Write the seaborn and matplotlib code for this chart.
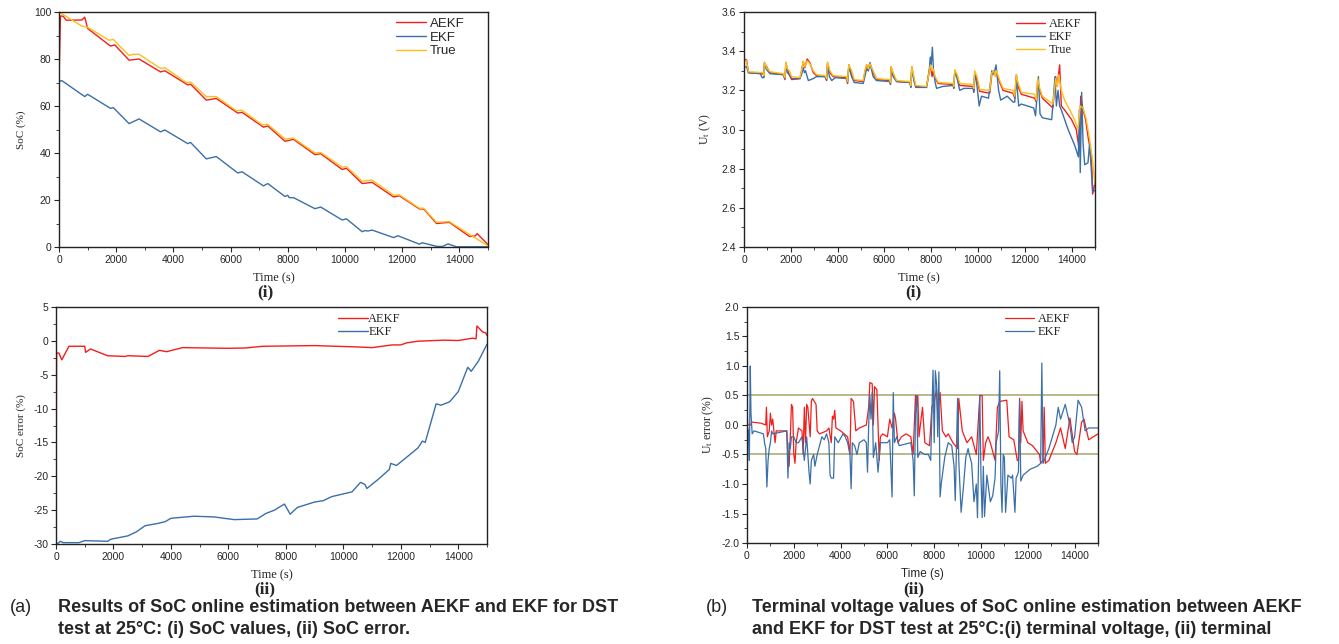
import numpy as np
import pandas as pd
import matplotlib
matplotlib.use('Agg')
import matplotlib.pyplot as plt
import seaborn as sns
from matplotlib.ticker import MultipleLocator

# ---------------- data ----------------
# (a)(i) SoC values (time s, SoC %)
soc_aekf = [(0, 70), (50, 98.3), (150, 98.2), (250, 96.5), (800, 96.6), (900, 97.8), (1000, 93),
            (1800, 85.5), (1950, 86), (2450, 79.5), (2800, 80), (3550, 74.5), (3700, 75),
            (4500, 69), (4600, 69.3), (5150, 62.5), (5500, 63.2), (6250, 57), (6400, 57.3),
            (7150, 51), (7300, 51.5), (7900, 45), (8200, 45.8), (8950, 39.3), (9150, 39.7),
            (9900, 33), (10050, 33.5), (10600, 27), (10950, 27.5), (11700, 21.3), (11900, 21.8),
            (12600, 16.2), (12750, 16.2), (13200, 10), (13650, 10.5), (14350, 4.5), (14550, 4.7),
            (14620, 5.7), (14800, 3.5), (15000, 1)]
soc_ekf = [(0, 70.5), (100, 70.8), (900, 64), (1000, 65), (1800, 59), (1900, 59.3), (2450, 52.5),
           (2800, 54.5), (3550, 49), (3700, 49.8), (4500, 44), (4600, 44.5), (5150, 37.5),
           (5500, 38.5), (6250, 31.5), (6400, 32), (7150, 26), (7300, 27), (7900, 21.5),
           (8000, 22), (8050, 21), (8200, 21), (8950, 16.3), (9150, 17), (9900, 11.5),
           (10050, 12), (10600, 6.5), (10700, 7), (10800, 6.8), (10950, 7.2), (11700, 4),
           (11850, 4.8), (12600, 1.2), (12700, 1.8), (13200, 0.3), (13400, 0.2), (13600, 1.3),
           (13900, 0.1), (15000, 0.1)]
soc_true = [(0, 100), (800, 94), (1000, 93.5), (1750, 88), (1900, 88.3), (2450, 81.5), (2600, 82),
            (2800, 82), (3550, 76), (3700, 76.3), (4450, 70), (4600, 70.2), (5150, 64), (5500, 64),
            (6200, 58), (6400, 58.2), (7100, 52), (7300, 52.2), (7900, 46), (8200, 46.3),
            (8950, 40), (9150, 40.2), (9900, 34), (10050, 34.2), (10600, 28), (10950, 28.5),
            (11700, 22), (11900, 22.2), (12600, 16.5), (12750, 16.5), (13200, 10.5),
            (13650, 10.8), (14400, 5), (15000, 0.5)]

# (a)(ii) SoC error (time s, %)
err_aekf = [(0, -30), (20, -1.8), (100, -1.8), (200, -2.8), (450, -0.8), (1000, -0.8), (1030, -1.7),
            (1200, -1.2), (1800, -2.2), (2400, -2.3), (2500, -2.2), (3200, -2.3), (3600, -1.4),
            (3850, -1.6), (4400, -1.0), (6000, -1.1), (6600, -1.05), (7200, -0.8), (9000, -0.7),
            (10500, -0.9), (11000, -1.0), (11700, -0.6), (12000, -0.6), (12200, -0.3),
            (12600, -0.05), (13500, 0.1), (14000, 0.05), (14500, 0.4), (14620, 0.3), (14650, 2.2),
            (14850, 1.3), (14950, 1.2), (15000, 0.8)]
err_ekf = [(0, -30), (100, -29.8), (150, -29.6), (250, -29.8), (800, -29.8), (1000, -29.5),
           (1800, -29.6), (1900, -29.3), (2500, -28.8), (2800, -28.2), (3100, -27.3), (3500, -27.0),
           (3800, -26.7), (4000, -26.2), (4800, -25.9), (5500, -26.0), (6200, -26.4), (7000, -26.3),
           (7300, -25.5), (7600, -25.0), (7950, -24.1), (8150, -25.6), (8400, -24.6), (9000, -23.8),
           (9300, -23.6), (9600, -23.0), (10000, -22.6), (10300, -22.3), (10600, -20.9),
           (10750, -21.2), (10820, -21.8), (11200, -20.5), (11600, -19.0), (11650, -18.1),
           (11850, -18.4), (12200, -17.2), (12600, -15.8), (12750, -14.8), (12850, -15.0),
           (13230, -9.3), (13400, -9.5), (13700, -9.0), (14000, -7.5), (14330, -3.9),
           (14450, -4.5), (14700, -3.0), (15000, -0.5)]

# (b)(i) terminal voltage (time s, V)
ut_aekf = [(0, 3.36), (110, 3.355), (190, 3.29), (820, 3.285), (850, 3.27), (870, 3.34), (970, 3.32),
           (1110, 3.29), (1680, 3.28), (1750, 3.255), (1790, 3.34), (1850, 3.31), (1935, 3.28),
           (2035, 3.255), (2390, 3.26), (2460, 3.30), (2530, 3.345), (2600, 3.315), (2700, 3.36),
           (2820, 3.34), (2960, 3.29), (3100, 3.275), (3460, 3.27), (3530, 3.25), (3570, 3.34),
           (3670, 3.29), (3810, 3.27), (4380, 3.265), (4425, 3.235), (4480, 3.33), (4600, 3.28),
           (4710, 3.25), (5095, 3.245), (5165, 3.29), (5240, 3.33), (5310, 3.30), (5380, 3.34),
           (5520, 3.29), (5660, 3.255), (6230, 3.25), (6260, 3.235), (6290, 3.32), (6375, 3.28),
           (6520, 3.245), (7090, 3.24), (7130, 3.22), (7170, 3.32), (7260, 3.26), (7340, 3.22),
           (7800, 3.215), (7910, 3.30), (7970, 3.32), (8040, 3.27), (8080, 3.30), (8170, 3.26),
           (8300, 3.235), (8940, 3.23), (8965, 3.215), (9010, 3.30), (9110, 3.27), (9220, 3.225),
           (9790, 3.22), (9820, 3.20), (9860, 3.29), (9960, 3.25), (10075, 3.195), (10500, 3.185),
           (10590, 3.28), (10670, 3.30), (10730, 3.28), (10790, 3.29), (10930, 3.24), (11070, 3.20),
           (11500, 3.185), (11570, 3.16), (11640, 3.28), (11710, 3.22), (11850, 3.18),
           (12420, 3.16), (12495, 3.14), (12550, 3.25), (12640, 3.20), (12750, 3.16), (13200, 3.11),
           (13320, 3.27), (13380, 3.22), (13490, 3.33), (13560, 3.12), (13700, 3.10), (14000, 3.05),
           (14200, 3.00), (14320, 2.90), (14390, 3.17), (14490, 3.10), (14600, 3.05), (14720, 2.95),
           (14850, 2.87), (14900, 2.67), (15000, 2.73)]
ut_ekf = [(0, 3.32), (110, 3.32), (190, 3.29), (700, 3.285), (770, 3.265), (850, 3.265), (870, 3.33),
          (970, 3.305), (1110, 3.285), (1680, 3.28), (1750, 3.26), (1790, 3.33), (1850, 3.29),
          (1935, 3.28), (2035, 3.26), (2390, 3.26), (2460, 3.28), (2530, 3.315), (2580, 3.29),
          (2630, 3.30), (2700, 3.27), (2750, 3.25), (2960, 3.26), (3100, 3.27), (3460, 3.27),
          (3530, 3.255), (3570, 3.33), (3650, 3.27), (3750, 3.25), (3900, 3.265), (4380, 3.26),
          (4425, 3.24), (4480, 3.32), (4600, 3.27), (4710, 3.24), (5095, 3.235), (5165, 3.27),
          (5240, 3.31), (5310, 3.30), (5380, 3.34), (5520, 3.27), (5660, 3.25), (6230, 3.245),
          (6260, 3.23), (6290, 3.31), (6375, 3.27), (6520, 3.245), (7090, 3.24), (7130, 3.215),
          (7170, 3.31), (7260, 3.25), (7340, 3.215), (7800, 3.215), (7910, 3.29), (7960, 3.37),
          (8000, 3.33), (8050, 3.42), (8100, 3.30), (8170, 3.24), (8230, 3.21), (8500, 3.22),
          (8940, 3.225), (8965, 3.21), (9010, 3.30), (9110, 3.26), (9220, 3.20), (9400, 3.21),
          (9790, 3.21), (9820, 3.19), (9860, 3.29), (9960, 3.22), (10050, 3.12), (10150, 3.17),
          (10450, 3.16), (10590, 3.30), (10680, 3.28), (10770, 3.33), (10880, 3.20), (10970, 3.15),
          (11250, 3.17), (11500, 3.14), (11570, 3.14), (11640, 3.26), (11740, 3.12), (11850, 3.13),
          (12380, 3.11), (12460, 3.07), (12580, 3.27), (12650, 3.08), (12750, 3.06), (13150, 3.05),
          (13290, 3.27), (13350, 3.12), (13420, 3.20), (13490, 3.12), (13560, 3.10), (13850, 3.00),
          (14130, 2.92), (14290, 2.86), (14330, 3.10), (14370, 2.78), (14430, 3.19), (14490, 2.93),
          (14560, 2.82), (14700, 2.83), (14770, 2.93), (14900, 2.68), (15000, 2.69)]
ut_true = [(0, 3.35), (110, 3.35), (190, 3.295), (820, 3.29), (850, 3.275), (870, 3.345), (970, 3.315),
           (1110, 3.295), (1680, 3.285), (1750, 3.265), (1790, 3.345), (1850, 3.31), (1935, 3.30),
           (2035, 3.27), (2390, 3.265), (2460, 3.30), (2530, 3.35), (2600, 3.32), (2700, 3.35),
           (2820, 3.335), (2960, 3.30), (3100, 3.28), (3460, 3.275), (3530, 3.26), (3570, 3.345),
           (3670, 3.30), (3810, 3.275), (4380, 3.27), (4425, 3.245), (4480, 3.33), (4600, 3.30),
           (4710, 3.255), (5095, 3.25), (5165, 3.30), (5240, 3.33), (5310, 3.31), (5380, 3.335),
           (5520, 3.30), (5660, 3.26), (6230, 3.255), (6260, 3.24), (6290, 3.32), (6375, 3.29),
           (6520, 3.25), (7090, 3.245), (7130, 3.225), (7170, 3.32), (7260, 3.27), (7340, 3.225),
           (7800, 3.22), (7910, 3.29), (7970, 3.33), (8040, 3.30), (8080, 3.31), (8170, 3.27),
           (8300, 3.24), (8940, 3.235), (8965, 3.22), (9010, 3.305), (9110, 3.28), (9220, 3.235),
           (9790, 3.23), (9820, 3.21), (9860, 3.30), (9960, 3.27), (10075, 3.205), (10500, 3.20),
           (10590, 3.29), (10670, 3.30), (10730, 3.27), (10790, 3.30), (10930, 3.25), (11070, 3.21),
           (11500, 3.20), (11570, 3.17), (11640, 3.28), (11710, 3.24), (11850, 3.19), (12420, 3.18),
           (12495, 3.15), (12550, 3.26), (12640, 3.21), (12750, 3.17), (13200, 3.13), (13320, 3.26),
           (13380, 3.22), (13450, 3.28), (13560, 3.20), (13700, 3.15), (13920, 3.10), (14130, 3.05),
           (14270, 3.00), (14370, 3.12), (14490, 3.11), (14630, 3.05), (14770, 2.95), (14885, 2.85),
           (15000, 2.72)]

# (b)(ii) terminal voltage error (time s, %)
uerr_aekf = [(0, 0.3), (30, 0.0), (150, 0.0), (200, 0.05), (600, 0.03), (800, 0.0), (830, 0.3),
             (870, -0.2), (950, -0.1), (1000, 0.2), (1050, 0.0), (1100, 0.1), (1200, -0.3),
             (1250, -0.1), (1700, -0.1), (1750, -0.5), (1800, -0.7), (1850, -0.2), (1900, 0.35),
             (1950, 0.3), (2000, -0.5), (2050, -0.65), (2100, -0.3), (2200, -0.05), (2350, -0.1),
             (2400, -0.5), (2450, 0.3), (2500, -0.3), (2550, 0.35), (2600, 0.3), (2700, -0.2),
             (2750, 0.4), (2800, 0.45), (2950, 0.35), (3000, -0.1), (3100, -0.15), (3400, -0.1),
             (3500, -0.05), (3600, -0.3), (3650, 0.15), (3700, 0.1), (3750, 0.25), (3800, -0.05),
             (4000, -0.1), (4300, -0.2), (4400, -0.5), (4450, 0.45), (4550, 0.4), (4650, -0.1),
             (4800, -0.05), (5100, 0.0), (5200, 0.3), (5250, 0.72), (5350, 0.7), (5400, 0.0),
             (5450, 0.65), (5550, 0.6), (5650, -0.6), (5700, -0.2), (5800, -0.15), (6000, -0.2),
             (6100, 0.1), (6200, -0.05), (6300, 0.2), (6350, 0.1), (6450, -0.3), (6600, -0.2),
             (6800, -0.15), (7000, -0.2), (7100, -0.5), (7200, 0.5), (7250, 0.3), (7300, 0.5),
             (7350, -0.2), (7500, 0.3), (7600, -0.3), (7800, -0.35), (7900, 0.3), (8000, 0.4),
             (8100, 0.6), (8150, 0.2), (8250, 0.55), (8350, -0.1), (8500, -0.2), (8600, -0.15),
             (8800, -0.3), (9000, -0.4), (9050, 0.45), (9200, -0.1), (9400, -0.3), (9600, -0.2),
             (9800, -0.5), (9950, 0.5), (10050, 0.5), (10100, -0.6), (10200, -0.3), (10300, -0.2),
             (10400, -0.3), (10600, -0.6), (10700, 0.3), (10800, 0.4), (11100, 0.42), (11200, -0.2),
             (11400, -0.25), (11550, -0.6), (11600, -0.6), (11650, 0.45), (11700, -0.3),
             (11750, 0.4), (11800, -0.1), (12000, -0.3), (12200, -0.35), (12400, -0.45),
             (12500, -0.5), (12550, -0.65), (12650, -0.6), (12700, 0.3), (12750, -0.65),
             (12900, -0.6), (13200, -0.3), (13400, -0.05), (13600, -0.4), (13800, 0.12),
             (14000, -0.45), (14100, -0.5), (14300, 0.05), (14400, 0.1), (14600, -0.25),
             (14800, -0.2), (15000, -0.15)]
uerr_ekf = [(0, 0.0), (60, -0.1), (100, -0.6), (140, 1.0), (170, 0.2), (220, -0.15), (300, -0.1),
            (700, -0.15), (750, -0.3), (800, -0.4), (850, -1.05), (900, -0.6), (950, -0.4),
            (1000, -0.3), (1050, -0.1), (1100, -0.15), (1700, -0.1), (1750, -0.9), (1800, -0.3),
            (1850, -0.4), (1900, -0.2), (2000, -0.2), (2100, -0.3), (2200, -0.3), (2350, -0.2),
            (2450, -0.6), (2500, -0.4), (2550, -0.2), (2650, -0.8), (2700, -1.0), (2750, -0.6),
            (2850, -0.5), (2900, -0.7), (3000, -0.5), (3200, -0.2), (3300, -0.25), (3400, -0.15),
            (3500, -0.3), (3550, -0.85), (3600, -0.9), (3700, -0.9), (3750, -0.2), (3900, -0.3),
            (4100, -0.15), (4200, -0.2), (4300, -0.3), (4400, -0.5), (4450, -1.08), (4500, -0.3),
            (4600, -0.35), (4700, -0.5), (4800, -0.3), (5000, -0.25), (5100, -0.3), (5150, -0.8),
            (5200, 0.0), (5250, 0.5), (5300, 0.1), (5350, 0.55), (5400, -0.55), (5500, -0.3),
            (5600, -0.8), (5700, -0.3), (6000, -0.3), (6100, -0.25), (6200, -1.22), (6250, 0.55),
            (6300, -0.3), (6400, -0.2), (6500, -0.35), (7000, -0.3), (7100, -0.6), (7150, -1.2),
            (7200, 0.2), (7250, 0.5), (7300, -0.55), (7400, -0.45), (7600, -0.5), (7750, -0.5),
            (7850, -0.6), (7950, 0.93), (8000, -0.3), (8050, 0.92), (8100, 0.7), (8150, -0.2),
            (8200, 0.9), (8250, -1.22), (8300, -1.0), (8450, -0.55), (8600, -0.3), (8750, -0.35),
            (8850, -0.7), (8900, -1.28), (8950, -0.4), (9000, 0.45), (9050, -0.6), (9150, -1.48),
            (9250, -1.05), (9350, -0.55), (9450, -0.4), (9500, -0.5), (9600, -0.65), (9700, -1.3),
            (9800, -1.0), (9850, -1.57), (9950, 0.5), (10000, -0.9), (10050, -1.57), (10100, -0.7),
            (10150, -1.55), (10250, -0.85), (10400, -1.3), (10500, -1.2), (10600, -0.9),
            (10650, -0.3), (10750, -0.1), (10800, 0.92), (10850, -1.0), (10900, -1.48),
            (10950, -0.5), (11000, -0.55), (11050, -1.48), (11150, -0.85), (11300, -0.9),
            (11350, -0.85), (11450, -1.48), (11500, -0.9), (11600, -0.8), (11650, 0.4),
            (11700, -0.95), (11800, -0.85), (12100, -0.75), (12400, -0.7), (12550, -0.65),
            (12600, 1.05), (12650, -0.65), (12900, -0.4), (13200, 0.0), (13300, 0.3), (13400, 0.1),
            (13600, 0.35), (13800, 0.0), (13900, -0.3), (14000, -0.2), (14150, 0.42), (14300, 0.3),
            (14450, -0.1), (14600, -0.05), (14700, -0.05), (15000, -0.05)]

time_ticks = [0, 2000, 4000, 6000, 8000, 10000, 12000, 14000]
ref_band = [-0.5, 0.5]

# ---------------- style ----------------
sns.set_style('ticks')
plt.rcParams['font.family'] = ['Liberation Sans', 'DejaVu Sans']
plt.rcParams['mathtext.default'] = 'regular'
plt.rcParams['axes.unicode_minus'] = False

RED = '#f21d1d'
BLUE = '#3b6fa8'
YELLOW = '#fdbf1a'
SERIF = ['Liberation Serif', 'DejaVu Serif']
SANS = ['Liberation Sans', 'DejaVu Sans']

fig = plt.figure(figsize=(13.39, 6.44), dpi=100)
W, H = 1339, 644


def add_ax(left, top, right, bottom):
    return fig.add_axes([left / W, 1 - bottom / H, (right - left) / W, (bottom - top) / H])


def draw(ax, pts, color, label, lw=1.0):
    df = pd.DataFrame(pts, columns=['t', 'v'])
    sns.lineplot(data=df, x='t', y='v', ax=ax, color=color, lw=lw, label=label,
                 estimator=None, sort=False)


def style(ax, ylim, ymaj, ymin):
    ax.set_xlim(0, 15000)
    ax.set_ylim(*ylim)
    ax.set_xticks(time_ticks)
    ax.xaxis.set_minor_locator(MultipleLocator(1000))
    ax.yaxis.set_major_locator(MultipleLocator(ymaj))
    ax.yaxis.set_minor_locator(MultipleLocator(ymin))
    ax.tick_params(which='major', direction='out', length=3.5, width=0.8, labelsize=7.5, pad=2)
    ax.tick_params(which='minor', direction='out', length=2, width=0.6)
    for s in ax.spines.values():
        s.set_visible(True)
        s.set_linewidth(1.0)
        s.set_color('#222222')
    ax.set_xlabel('')
    ax.set_ylabel('')


# (a)(i)
ax1 = add_ax(59, 12, 488, 247)
draw(ax1, soc_aekf, RED, 'AEKF')
draw(ax1, soc_ekf, BLUE, 'EKF')
draw(ax1, soc_true, YELLOW, 'True')
style(ax1, (0, 100), 20, 10)
ax1.set_ylabel('SoC (%)', family=SERIF, fontsize=8, labelpad=6)
ax1.legend(loc='upper left', bbox_to_anchor=(0.785, 0.975), frameon=False, fontsize=9.5,
           handlelength=2.3, handletextpad=0.3, labelspacing=0.1, borderaxespad=0, borderpad=0)

# (a)(ii)
ax2 = add_ax(56, 307, 487, 544)
draw(ax2, err_aekf, RED, 'AEKF')
draw(ax2, err_ekf, BLUE, 'EKF')
style(ax2, (-30, 5), 5, 2.5)
ax2.set_ylabel('SoC error (%)', family=SERIF, fontsize=8, labelpad=5)
ax2.legend(loc='upper left', bbox_to_anchor=(0.655, 0.975), frameon=False,
           prop={'family': SERIF, 'size': 9}, handlelength=2.4, handletextpad=0.0,
           labelspacing=0.1, borderaxespad=0, borderpad=0)

# (b)(i)
ax3 = add_ax(744, 12, 1095, 247)
draw(ax3, ut_aekf, RED, 'AEKF')
draw(ax3, ut_ekf, BLUE, 'EKF')
draw(ax3, ut_true, YELLOW, 'True')
style(ax3, (2.4, 3.6), 0.2, 0.1)
ax3.yaxis.set_major_formatter(matplotlib.ticker.FormatStrFormatter('%.1f'))
ax3.set_ylabel('U$_t$ (V)', family=SERIF, fontsize=8.5, labelpad=6)
ax3.legend(loc='upper left', bbox_to_anchor=(0.775, 0.975), frameon=False,
           prop={'family': SERIF, 'size': 9}, handlelength=2.3, handletextpad=0.3,
           labelspacing=0.1, borderaxespad=0, borderpad=0)

# (b)(ii)
ax4 = add_ax(747, 307, 1098, 543)
for r in ref_band:
    ax4.axhline(r, color='#b9b98c', lw=1.4, zorder=1)
draw(ax4, uerr_aekf, RED, 'AEKF', lw=0.9)
draw(ax4, uerr_ekf, BLUE, 'EKF', lw=0.9)
style(ax4, (-2.0, 2.0), 0.5, 0.25)
ax4.yaxis.set_major_formatter(matplotlib.ticker.FormatStrFormatter('%.1f'))
ax4.set_ylabel('U$_t$ error (%)', family=SERIF, fontsize=8.5, labelpad=4)
ax4.legend(loc='upper left', bbox_to_anchor=(0.735, 0.975), frameon=False,
           prop={'family': SERIF, 'size': 9}, handlelength=2.3, handletextpad=0.3,
           labelspacing=0.1, borderaxespad=0, borderpad=0)

# x labels and sub-panel marks
def ftext(x, y, s, **kw):
    fig.text(x / W, 1 - y / H, s, ha='center', va='center', **kw)

ftext(274, 278, 'Time (s)', family=SERIF, fontsize=9)
ftext(265, 292, '(i)', family=SERIF, fontsize=12.5, fontweight='bold')
ftext(272, 575, 'Time (s)', family=SERIF, fontsize=9)
ftext(265, 589, '(ii)', family=SERIF, fontsize=12.5, fontweight='bold')
ftext(919, 278, 'Time (s)', family=SERIF, fontsize=9)
ftext(913, 292, '(i)', family=SERIF, fontsize=12.5, fontweight='bold')
ftext(922, 574, 'Time (s)', family=SANS, fontsize=8.5)
ftext(914, 589, '(ii)', family=SERIF, fontsize=12.5, fontweight='bold')

# captions
cap = dict(family=SANS, fontsize=13, fontweight='bold', ha='left', va='center')
fig.text(10 / W, 1 - 608 / H, '(a)', **{**cap, 'fontweight': 'normal'})
fig.text(58 / W, 1 - 608 / H, 'Results of SoC online estimation between AEKF and EKF for DST', **cap)
fig.text(58 / W, 1 - 629 / H, 'test at 25°C: (i) SoC values, (ii) SoC error.', **cap)
fig.text(706 / W, 1 - 608 / H, '(b)', **{**cap, 'fontweight': 'normal'})
fig.text(752 / W, 1 - 608 / H, 'Terminal voltage values of SoC online estimation between AEKF', **cap)
fig.text(752 / W, 1 - 629 / H, 'and EKF for DST test at 25°C:(i) terminal voltage, (ii) terminal', **cap)

fig.savefig('out.png', dpi=100, facecolor='white')
